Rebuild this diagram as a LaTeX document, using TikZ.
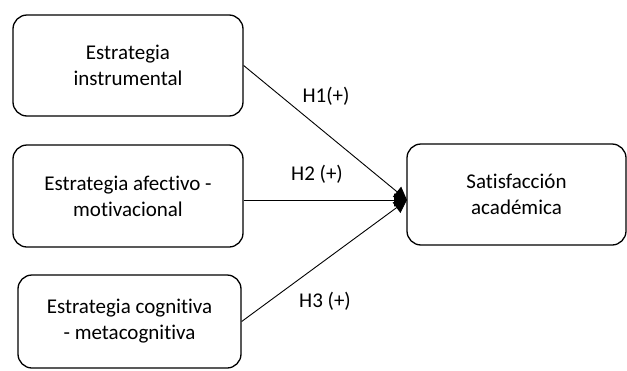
\documentclass[tikz,border=0pt]{standalone}
\usepackage{fontspec}
\setmainfont{Carlito}[Ligatures=NoCommon]
\usepackage{tikz}
\usetikzlibrary{arrows.meta,positioning,calc}
\tikzstyle{bS}=[rectangle,rounded corners=14pt,draw,line width=1.3pt,inner sep=0pt,align=center,font=\fontsize{21}{26}\selectfont]
\tikzstyle{hS}=[inner sep=0pt,font=\fontsize{21}{26}\selectfont]
\tikzstyle{eH}=[draw=black,line width=0.9pt,-{Triangle[length=13pt,width=13pt]}]

\begin{document}
\begin{tikzpicture}[x=1pt,y=-1pt]%[x=1 pt, y=-1 pt]
                \useasboundingbox (0,0) rectangle (627,370);
                \draw (128,65.5) node[bS,minimum width=230pt,minimum height=101pt] (n0) {Estrategia\\instrumental};
                \draw (128,196) node[bS,minimum width=230pt,minimum height=102pt] (n1) {Estrategia afectivo -\\motivacional};
                \draw (129.5,321.5) node[bS,minimum width=223pt,minimum height=93pt] (n2) {Estrategia cognitiva\\- metacognitiva};
                \draw (516.5,194.5) node[bS,minimum width=219pt,minimum height=101pt] (sat) {Satisfacción\\académica};
                \coordinate (tip) at (407,200);
                \path
                    (n0.east) edge[eH] (tip)
                    (n1.east |- tip) edge[eH] (tip)
                    (n2.east) edge[eH] (tip)
                ;
                \draw (326,96) node[hS] (h1) {H1(+)};
                \draw (317,174) node[hS] (h2) {H2 (+)};
                \draw (325,301) node[hS] (h3) {H3 (+)};
        \end{tikzpicture}
\end{document}
